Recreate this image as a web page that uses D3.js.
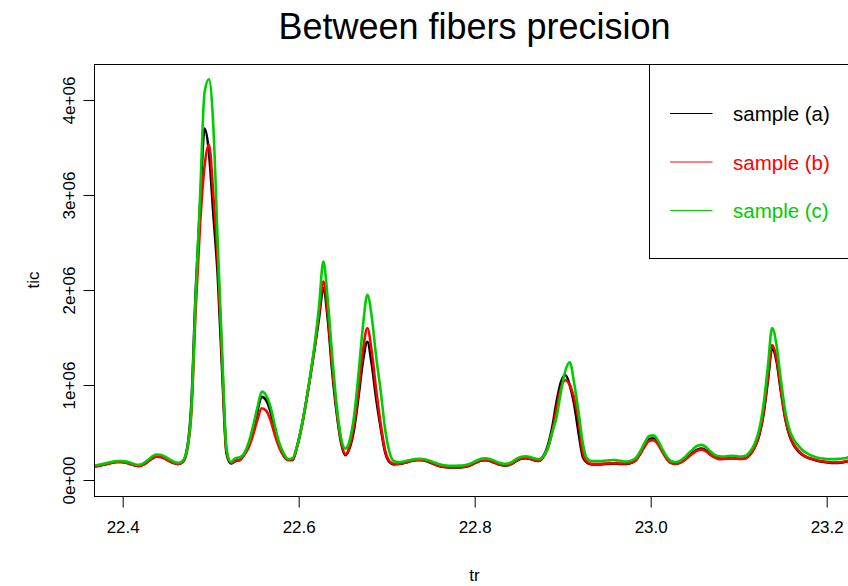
<!DOCTYPE html>
<html>
<head>
<meta charset="utf-8">
<script src="https://cdn.jsdelivr.net/npm/d3@7"></script>
<style>
  body { margin: 0; background: #fff; }
  text { font-family: "Liberation Sans", Arial, Helvetica, sans-serif; }
</style>
</head>
<body>
<svg id="chart" width="848" height="586"></svg>
<script>
// Retention time (min) of each scan
const tr = [
  22.363,22.368,22.373,22.378,22.383,22.388,22.393,22.398,22.403,22.408,
  22.413,22.418,22.423,22.428,22.433,22.438,22.443,22.448,22.453,22.458,
  22.463,22.468,22.473,22.478,22.483,22.488,22.493,22.498,22.503,22.508,
  22.513,22.518,22.523,22.528,22.533,22.538,22.543,22.548,22.553,22.558,
  22.563,22.568,22.573,22.578,22.583,22.588,22.593,22.598,22.603,22.608,
  22.613,22.618,22.623,22.628,22.633,22.638,22.643,22.648,22.653,22.658,
  22.663,22.668,22.673,22.678,22.683,22.688,22.693,22.698,22.703,22.708,
  22.713,22.718,22.723,22.728,22.733,22.738,22.743,22.748,22.753,22.758,
  22.763,22.768,22.773,22.778,22.783,22.788,22.793,22.798,22.803,22.808,
  22.813,22.818,22.823,22.828,22.833,22.838,22.843,22.848,22.853,22.858,
  22.863,22.868,22.873,22.878,22.883,22.888,22.893,22.898,22.903,22.908,
  22.913,22.918,22.923,22.928,22.933,22.938,22.943,22.948,22.953,22.958,
  22.963,22.968,22.973,22.978,22.983,22.988,22.993,22.998,23.003,23.008,
  23.013,23.018,23.023,23.028,23.033,23.038,23.043,23.048,23.053,23.058,
  23.063,23.068,23.073,23.078,23.083,23.088,23.093,23.098,23.103,23.108,
  23.113,23.118,23.123,23.128,23.133,23.138,23.143,23.148,23.153,23.158,
  23.163,23.168,23.173,23.178,23.183,23.188,23.193,23.198,23.203,23.208,
  23.213,23.218,23.223,23.228,23.233
];

// Total ion current, in millions of counts
const TIC_UNIT = 1e6;
const ticA = [
  .138,.142,.150,.160,.172,.183,.189,.190,.185,.172,
  .155,.148,.160,.190,.225,.245,.243,.225,.200,.180,
  .170,.190,.320,.800,2.00,2.90,3.70,3.45,2.80,2.15,
  1.15,.280,.175,.200,.210,.270,.370,.530,.720,.877,
  .840,.720,.530,.360,.260,.210,.210,.350,.550,.800,
  1.08,1.38,1.70,2.02,1.70,1.15,.720,.400,.260,.340,
  .540,.880,1.25,1.456,1.22,.860,.560,.300,.190,.165,
  .168,.175,.188,.200,.208,.210,.205,.190,.170,.152,
  .140,.134,.132,.132,.133,.137,.148,.168,.190,.205,
  .208,.198,.180,.163,.152,.155,.175,.205,.225,.230,
  .222,.208,.200,.250,.360,.550,.820,1.03,1.105,1.00,
  .800,.500,.240,.180,.165,.165,.165,.168,.170,.172,
  .170,.168,.170,.180,.210,.280,.360,.430,.440,.390,
  .310,.230,.180,.170,.180,.210,.250,.290,.320,.330,
  .310,.270,.240,.225,.225,.228,.230,.226,.224,.232,
  .270,.340,.460,.680,1.03,1.386,1.25,.930,.640,.460,
  .360,.300,.260,.235,.220,.205,.195,.188,.182,.180,
  .180,.185,.195,.208,.222
];
const ticB = [
  .138,.142,.150,.160,.172,.183,.189,.190,.185,.172,
  .155,.148,.160,.190,.225,.245,.243,.225,.200,.180,
  .170,.185,.300,.700,1.80,2.70,3.30,3.53,3.00,2.30,
  1.25,.300,.180,.200,.210,.260,.340,.470,.630,.755,
  .730,.630,.470,.340,.250,.210,.210,.340,.540,.790,
  1.08,1.39,1.75,2.09,1.76,1.20,.750,.420,.270,.360,
  .580,.950,1.36,1.60,1.35,.950,.600,.320,.200,.170,
  .170,.177,.190,.202,.210,.212,.207,.192,.172,.154,
  .142,.136,.134,.134,.135,.139,.150,.170,.192,.207,
  .210,.200,.182,.165,.154,.157,.177,.207,.227,.232,
  .224,.210,.202,.240,.330,.500,.750,.970,1.05,1.00,
  .860,.620,.280,.190,.170,.170,.170,.173,.175,.177,
  .175,.173,.175,.185,.205,.270,.350,.410,.420,.380,
  .300,.225,.180,.170,.180,.205,.245,.280,.310,.320,
  .300,.265,.235,.220,.222,.226,.228,.224,.222,.230,
  .270,.340,.470,.700,1.06,1.42,1.28,.950,.650,.470,
  .370,.310,.265,.240,.225,.210,.200,.193,.188,.185,
  .185,.190,.200,.212,.225
];
const ticC = [
  .148,.152,.160,.170,.182,.193,.199,.200,.196,.184,
  .167,.160,.172,.205,.245,.268,.265,.245,.218,.193,
  .180,.200,.320,.740,1.95,3.00,4.08,4.22,3.72,2.50,
  1.35,.320,.190,.230,.240,.280,.390,.560,.760,.930,
  .890,.770,.570,.390,.280,.220,.230,.350,.550,.800,
  1.10,1.42,1.82,2.30,1.90,1.32,.800,.450,.330,.420,
  .680,1.12,1.62,1.95,1.72,1.30,.950,.550,.300,.200,
  .188,.192,.202,.213,.220,.223,.218,.205,.188,.170,
  .158,.152,.150,.150,.151,.155,.166,.186,.208,.225,
  .228,.218,.200,.182,.171,.174,.194,.225,.245,.250,
  .242,.228,.220,.250,.340,.500,.660,.930,1.15,1.24,
  1.02,.720,.380,.220,.200,.200,.200,.203,.207,.210,
  .205,.198,.195,.205,.230,.300,.390,.460,.470,.420,
  .330,.250,.200,.190,.200,.235,.280,.325,.360,.370,
  .345,.300,.265,.250,.248,.252,.254,.250,.248,.256,
  .300,.380,.520,.780,1.18,1.60,1.42,1.05,.720,.520,
  .420,.360,.310,.280,.255,.240,.228,.222,.220,.220,
  .222,.226,.235,.250,.270
];

const seriesNames = ["sample (a)", "sample (b)", "sample (c)"];
const seriesColors = ["#000000", "#FF0000", "#00CD00"];
const seriesValues = [ticA, ticB, ticC];

const xTicks = [22.4, 22.6, 22.8, 23.0, 23.2];
const yTicks = [0, 1e6, 2e6, 3e6, 4e6];
const yTickLabels = ["0e+00", "1e+06", "2e+06", "3e+06", "4e+06"];

const svg = d3.select("#chart");
const W = 848, H = 586;
svg.append("rect").attr("width", W).attr("height", H).attr("fill", "#fff");

// plotting region (extends slightly past the right edge of the canvas)
const box = { left: 94.5, top: 64.5, right: 856, bottom: 496.5 };

const x = d3.scaleLinear().domain([22.4, 23.2]).range([122.7, 826.7]);
const y = d3.scaleLinear().domain([0, 4e6]).range([480, 100]);

svg.append("defs").append("clipPath").attr("id", "plotclip")
  .append("rect")
  .attr("x", box.left).attr("y", box.top)
  .attr("width", box.right - box.left).attr("height", box.bottom - box.top);

const line = d3.line()
  .x((d, i) => x(tr[i]))
  .y(d => y(d * TIC_UNIT))
  .curve(d3.curveMonotoneX);

const traces = svg.append("g").attr("clip-path", "url(#plotclip)");
seriesValues.forEach((vals, k) => {
  traces.append("path")
    .datum(vals)
    .attr("d", line)
    .attr("fill", "none")
    .attr("stroke", seriesColors[k])
    .attr("stroke-width", 2.6)
    .attr("stroke-linejoin", "round")
    .attr("stroke-linecap", "round");
});

// frame
svg.append("rect")
  .attr("x", box.left).attr("y", box.top)
  .attr("width", box.right - box.left).attr("height", box.bottom - box.top)
  .attr("fill", "none").attr("stroke", "#000").attr("stroke-width", 1);

// x axis
const gx = svg.append("g")
  .attr("transform", `translate(0,${box.bottom})`)
  .call(d3.axisBottom(x).tickValues(xTicks).tickSize(11).tickFormat(d3.format(".1f")));
gx.select(".domain").remove();
gx.selectAll(".tick line").attr("stroke", "#000");
gx.selectAll(".tick text")
  .attr("y", 36).attr("dy", 0)
  .attr("fill", "#000")
  .style("font-size", "17px")
  .style("font-family", "'Liberation Sans', Arial, sans-serif");

// y axis
const gy = svg.append("g")
  .attr("transform", `translate(${box.left},0)`)
  .call(d3.axisLeft(y).tickValues(yTicks).tickSize(11).tickFormat((d, i) => yTickLabels[i]));
gy.select(".domain").remove();
gy.selectAll(".tick line").attr("stroke", "#000");
gy.selectAll(".tick text")
  .attr("x", 0).attr("y", 0).attr("dy", 0)
  .attr("transform", "translate(-20,0) rotate(-90)")
  .attr("text-anchor", "middle")
  .attr("fill", "#000")
  .style("font-size", "17px")
  .style("font-family", "'Liberation Sans', Arial, sans-serif");

// titles
svg.append("text")
  .attr("x", 474.5).attr("y", 38.5)
  .attr("text-anchor", "middle")
  .style("font-size", "36px")
  .text("Between fibers precision");

svg.append("text")
  .attr("x", 474.5).attr("y", 581)
  .attr("text-anchor", "middle")
  .style("font-size", "17px")
  .text("tr");

svg.append("text")
  .attr("transform", "translate(39,280) rotate(-90)")
  .attr("text-anchor", "middle")
  .style("font-size", "17px")
  .text("tic");

// legend
const legend = svg.append("g");
legend.append("rect")
  .attr("x", 649.5).attr("y", box.top)
  .attr("width", box.right - 649.5).attr("height", 194)
  .attr("fill", "#fff").attr("stroke", "#000").attr("stroke-width", 1);
const rowY = [113.5, 162, 210.5];
seriesNames.forEach((name, k) => {
  legend.append("line")
    .attr("x1", 670).attr("x2", 712.5)
    .attr("y1", rowY[k]).attr("y2", rowY[k])
    .attr("stroke", seriesColors[k]).attr("stroke-width", 1.2);
  legend.append("text")
    .attr("x", 733).attr("y", rowY[k] + 7.5)
    .attr("fill", seriesColors[k])
    .style("font-size", "20.5px")
    .text(name);
});
</script>
</body>
</html>
